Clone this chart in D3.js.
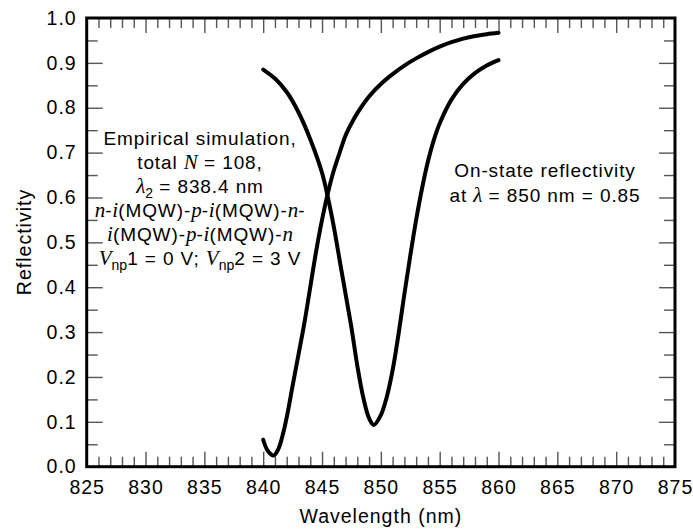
<!DOCTYPE html>
<html>
<head>
<meta charset="utf-8">
<script src="https://cdn.jsdelivr.net/npm/d3@7"></script>
<style>
  body { margin: 0; background: #fff; }
  svg text { font-family: "Liberation Sans", Arial, sans-serif; fill: #000; }
  .it { font-family: "Liberation Serif", "Times New Roman", serif; font-style: italic; }
</style>
</head>
<body>
<div id="chart"></div>
<script>
// curve 1: dip near 849.4 nm
var wlA = [840, 841, 842, 843, 844, 845, 845.5, 846, 846.5, 847, 847.5, 848, 848.5, 849, 849.4,
           850, 850.5, 851, 851.5, 852, 852.5, 853, 853.5, 854, 854.5, 855, 856, 857, 858, 859, 860];
var rA  = [0.885, 0.865, 0.835, 0.79, 0.73, 0.655, 0.60, 0.535, 0.46, 0.385, 0.31, 0.225, 0.155, 0.108, 0.093,
           0.115, 0.155, 0.215, 0.295, 0.385, 0.47, 0.55, 0.62, 0.68, 0.728, 0.765, 0.818, 0.853, 0.877, 0.894, 0.906];

// curve 2: dip near 840.9 nm, then rising
var wlB = [840, 840.4, 840.9, 841.3, 841.7, 842, 842.5, 843, 843.5, 844, 844.5, 845, 845.5, 846, 846.5, 847,
           847.5, 848, 849, 850, 851, 852, 853, 854, 855, 856, 857, 858, 859, 860];
var rB  = [0.06, 0.035, 0.025, 0.04, 0.075, 0.11, 0.18, 0.25, 0.32, 0.40, 0.48, 0.55, 0.61, 0.66, 0.70, 0.738,
           0.765, 0.788, 0.825, 0.853, 0.875, 0.894, 0.91, 0.924, 0.936, 0.946, 0.954, 0.96, 0.964, 0.967];

var xTicks = [825, 830, 835, 840, 845, 850, 855, 860, 865, 870, 875];
var yTicks = [0.0, 0.1, 0.2, 0.3, 0.4, 0.5, 0.6, 0.7, 0.8, 0.9, 1.0];

var width = 693, height = 529;
var plotL = 86.7, plotR = 675, plotT = 18, plotB = 466.7;

var svg = d3.select("#chart").append("svg")
    .attr("width", width)
    .attr("height", height);

var x = d3.scaleLinear().domain([825, 875]).range([plotL, plotR]);
var y = d3.scaleLinear().domain([0, 1]).range([plotB, plotT]);

var xMinor = d3.range(826, 875).filter(function (v) { return v % 5 !== 0; });
var yMinor = d3.range(0.05, 1, 0.1);

function styleTicks(g) {
  g.select(".domain").remove();
  g.selectAll(".tick line").attr("stroke", "#555").attr("stroke-width", 1.4);
  g.selectAll(".tick text")
    .style("font-size", "19.5px")
    .style("letter-spacing", "1px")
    .attr("fill", "#000");
}

///////////////// ticks, all pointing into the frame /////////////////
svg.append("g").attr("transform", "translate(0," + plotB + ")")
  .call(d3.axisBottom(x).tickValues(xMinor).tickSize(-10).tickFormat(""))
  .call(styleTicks);
svg.append("g").attr("transform", "translate(0," + plotB + ")")
  .call(d3.axisBottom(x).tickValues(xTicks.slice(1, -1)).tickSize(-15).tickFormat(""))
  .call(styleTicks);
svg.append("g").attr("transform", "translate(0," + plotT + ")")
  .call(d3.axisTop(x).tickValues(xMinor).tickSize(-10).tickFormat(""))
  .call(styleTicks);
svg.append("g").attr("transform", "translate(0," + plotT + ")")
  .call(d3.axisTop(x).tickValues(xTicks.slice(1, -1)).tickSize(-15).tickFormat(""))
  .call(styleTicks);

svg.append("g").attr("transform", "translate(" + plotL + ",0)")
  .call(d3.axisLeft(y).tickValues(yMinor).tickSize(-11).tickFormat(""))
  .call(styleTicks);
svg.append("g").attr("transform", "translate(" + plotL + ",0)")
  .call(d3.axisLeft(y).tickValues(yTicks.slice(1, -1)).tickSize(-16).tickFormat(""))
  .call(styleTicks);
svg.append("g").attr("transform", "translate(" + plotR + ",0)")
  .call(d3.axisRight(y).tickValues(yMinor).tickSize(-11).tickFormat(""))
  .call(styleTicks);
svg.append("g").attr("transform", "translate(" + plotR + ",0)")
  .call(d3.axisRight(y).tickValues(yTicks.slice(1, -1)).tickSize(-16).tickFormat(""))
  .call(styleTicks);

// labels
svg.append("g").attr("transform", "translate(0," + plotB + ")")
  .call(d3.axisBottom(x).tickValues(xTicks).tickSize(0).tickPadding(13).tickFormat(d3.format("d")))
  .call(styleTicks);
svg.append("g").attr("transform", "translate(" + plotL + ",0)")
  .call(d3.axisLeft(y).tickValues(yTicks).tickSize(0).tickPadding(10).tickFormat(d3.format(".1f")))
  .call(styleTicks);

// frame
svg.append("rect")
  .attr("x", plotL).attr("y", plotT)
  .attr("width", plotR - plotL).attr("height", plotB - plotT)
  .attr("fill", "none").attr("stroke", "#000").attr("stroke-width", 3);

///////////////// curves /////////////////
var line = d3.line()
  .x(function (d) { return x(d[0]); })
  .y(function (d) { return y(d[1]); })
  .curve(d3.curveCatmullRom.alpha(0.5));

[d3.zip(wlA, rA), d3.zip(wlB, rB)].forEach(function (pts) {
  svg.append("path")
    .datum(pts)
    .attr("d", line)
    .attr("fill", "none")
    .attr("stroke", "#000")
    .attr("stroke-width", 4)
    .attr("stroke-linecap", "round");
});

///////////////// axis titles /////////////////
svg.append("text")
  .attr("x", (plotL + plotR) / 2).attr("y", 523)
  .attr("text-anchor", "middle")
  .style("font-size", "19.5px").style("letter-spacing", "1px")
  .text("Wavelength (nm)");

svg.append("text")
  .attr("transform", "translate(31,242) rotate(-90)")
  .attr("text-anchor", "middle")
  .style("font-size", "19.5px").style("letter-spacing", "1px")
  .text("Reflectivity");

///////////////// annotations /////////////////
// each line is a list of [text, kind]; kind: "" plain, "i" italic serif, "s" subscript
function addLine(cx, cy, parts) {
  var t = svg.append("text")
    .attr("x", cx).attr("y", cy)
    .attr("text-anchor", "middle")
    .style("font-size", "19px").style("letter-spacing", "0.9px");
  var shifted = 0;
  parts.forEach(function (p) {
    var ts = t.append("tspan").text(p[0]);
    var dy = 0;
    if (p[1] === "s") { dy = 5 - shifted; shifted = 5; ts.style("font-size", "14px").style("letter-spacing", "0px"); }
    else if (shifted) { dy = -shifted; shifted = 0; }
    if (dy) ts.attr("dy", dy);
    if (p[1] === "i") ts.attr("class", "it").style("font-size", "21px").style("letter-spacing", "0px");
  });
}

var cx = 200;
addLine(cx, 145, [["Empirical simulation,", ""]]);
addLine(cx, 169, [["total ", ""], ["N", "i"], [" = 108,", ""]]);
addLine(cx, 193, [["\u03bb", "i"], ["2", "s"], [" = 838.4 nm", ""]]);
addLine(cx, 217, [["n", "i"], ["-", ""], ["i", "i"], ["(MQW)-", ""], ["p", "i"], ["-", ""], ["i", "i"],
                  ["(MQW)-", ""], ["n", "i"], ["-", ""]]);
addLine(cx, 241, [["i", "i"], ["(MQW)-", ""], ["p", "i"], ["-", ""], ["i", "i"], ["(MQW)-", ""], ["n", "i"]]);
addLine(cx, 265, [["V", "i"], ["np", "s"], ["1 = 0 V; ", ""], ["V", "i"], ["np", "s"], ["2 = 3 V", ""]]);

addLine(545, 177, [["On-state reflectivity", ""]]);
addLine(545, 202, [["at ", ""], ["\u03bb", "i"], [" = 850 nm = 0.85", ""]]);
</script>
</body>
</html>
